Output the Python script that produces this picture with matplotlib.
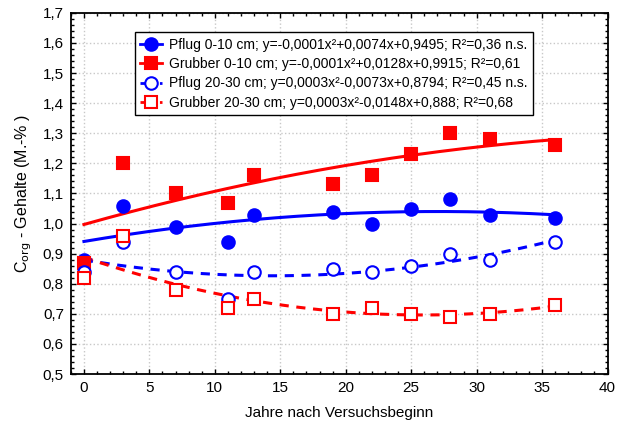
import numpy as np
import matplotlib
matplotlib.use('Agg')
import matplotlib.pyplot as plt
from matplotlib.ticker import MultipleLocator, FuncFormatter

plt.rcParams['font.family'] = ['Liberation Sans', 'DejaVu Sans']

# Jahre nach Versuchsbeginn
jahre = [0, 3, 7, 11, 13, 19, 22, 25, 28, 31, 36]

pflug_0_10 = [0.88, 1.06, 0.99, 0.94, 1.03, 1.04, 1.00, 1.05, 1.08, 1.03, 1.02]
grubber_0_10 = [0.87, 1.20, 1.10, 1.07, 1.16, 1.13, 1.16, 1.23, 1.30, 1.28, 1.26]
pflug_20_30 = [0.84, 0.94, 0.84, 0.75, 0.84, 0.85, 0.84, 0.86, 0.90, 0.88, 0.94]
grubber_20_30 = [0.82, 0.96, 0.78, 0.72, 0.75, 0.70, 0.72, 0.70, 0.69, 0.70, 0.73]

labels = [
    'Pflug 0-10 cm; y=-0,0001x²+0,0074x+0,9495; R²=0,36 n.s.',
    'Grubber 0-10 cm; y=-0,0001x²+0,0128x+0,9915; R²=0,61',
    'Pflug 20-30 cm; y=0,0003x²-0,0073x+0,8794; R²=0,45 n.s.',
    'Grubber 20-30 cm; y=0,0003x²-0,0148x+0,888; R²=0,68',
]

blau = '#0000ff'
rot = '#ff0000'

fig = plt.figure(figsize=(6.27, 4.29), dpi=100, facecolor='white')
ax = fig.add_axes([0.113, 0.128, 0.856, 0.842])

xs = np.linspace(0, 36, 200)
serien = [
    (pflug_0_10, blau, 'o', True, False),
    (grubber_0_10, rot, 's', True, False),
    (pflug_20_30, blau, 'o', False, True),
    (grubber_20_30, rot, 's', False, True),
]
handles = []
for (werte, farbe, marker, gefuellt, gestrichelt), lab in zip(serien, labels):
    koef = np.polyfit(jahre, werte, 2)
    kurve, = ax.plot(xs, np.polyval(koef, xs), color=farbe, lw=2.2, zorder=3)
    if gestrichelt:
        kurve.set_dashes((3, 2.5))
    ms = 9 if marker == 'o' else 8.5
    fc = farbe if gefuellt else 'white'
    ax.plot(jahre, werte, ls='none', marker=marker, color=farbe, markersize=ms,
            markerfacecolor=fc, mew=1.5, zorder=4)
    h = plt.Line2D([], [], color=farbe, marker=marker, lw=2, markersize=ms,
                   markerfacecolor=fc, mew=1.5)
    if gestrichelt:
        h.set_dashes((2, 1.5))
    handles.append(h)

ax.set_xlim(-1, 40)
ax.set_ylim(0.5, 1.7)
ax.xaxis.set_major_locator(MultipleLocator(5))
ax.yaxis.set_major_locator(MultipleLocator(0.1))
ax.yaxis.set_minor_locator(MultipleLocator(0.02))
ax.xaxis.set_minor_locator(MultipleLocator(1))
ax.yaxis.set_major_formatter(FuncFormatter(lambda v, p: f'{v:.1f}'.replace('.', ',')))
ax.tick_params(which='both', direction='in', top=True, right=True, labelsize=11,
               width=1)
ax.tick_params(which='major', length=3.5, pad=5)
ax.tick_params(which='minor', length=2)
ax.grid(True, which='major', color='#c8c8c8', ls=':', lw=1)
for s in ax.spines.values():
    s.set_linewidth(1.3)

ax.set_xlabel('Jahre nach Versuchsbeginn', fontsize=11, labelpad=8)
ax.set_ylabel('C$_{\\mathrm{org}}$ - Gehalte (M.-% )', fontsize=11.5, labelpad=6)

leg = ax.legend(handles, labels, loc='upper left', bbox_to_anchor=(0.119, 0.946),
                fontsize=10, frameon=True, fancybox=False, framealpha=1,
                edgecolor='black', handlelength=1.6, handletextpad=0.5,
                borderpad=0.4, labelspacing=0.38, borderaxespad=0)
leg.get_frame().set_linewidth(1.0)

fig.savefig('out.png', dpi=100)
